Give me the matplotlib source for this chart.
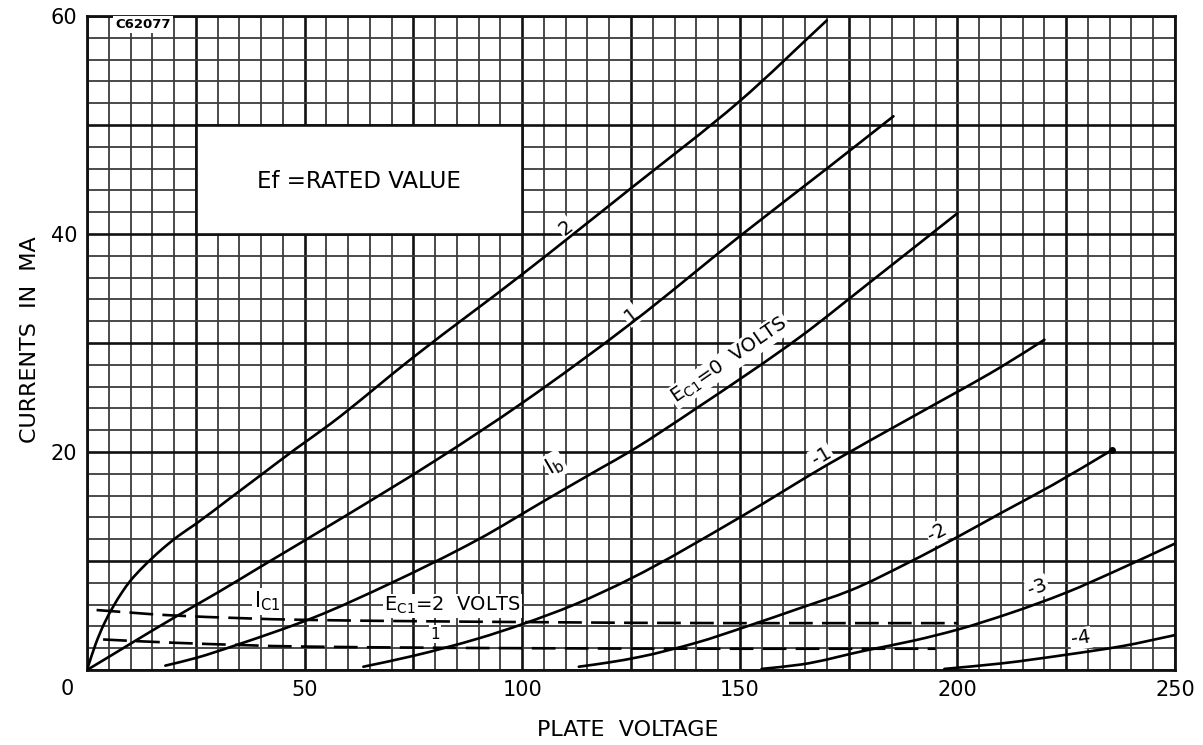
import numpy as np
import matplotlib
matplotlib.use("Agg")
import matplotlib.pyplot as plt
from matplotlib.ticker import FuncFormatter, MultipleLocator
from matplotlib.patches import Rectangle, PathPatch
from matplotlib.path import Path

plt.rcParams['font.family'] = ['DejaVu Sans']

# Plate current Ib (mA) vs plate voltage for each grid-1 voltage
ib_p2_v = [0, 2, 4, 6, 8, 10, 13, 17, 21, 25, 33, 40, 48, 56, 75, 100, 125, 150, 170]
ib_p2_i = [0, 2.4, 4.3, 5.8, 7.1, 8.2, 9.5, 11.0, 12.3, 13.4, 15.8, 17.9, 20.3, 22.6, 28.7, 36.3, 44.2, 52.2, 59.6]

ib_p1_v = [0, 5, 11.4, 20, 30, 40, 58, 80, 100, 125, 150, 170, 185.3]
ib_p1_i = [0, 1.2, 2.75, 4.8, 7.1, 9.5, 13.8, 19.2, 24.5, 31.8, 39.8, 46.0, 50.8]

ib_0_v = [18, 25, 34.4, 52, 70, 90, 105, 118, 125, 140, 164, 180, 200]
ib_0_i = [0.4, 1.1, 2.3, 4.8, 8.0, 12.0, 15.5, 18.5, 20.1, 24.0, 30.6, 35.6, 41.9]

ib_m1_v = [63.5, 75, 90, 100, 112, 125, 150, 170, 190, 210, 220]
ib_m1_i = [0.3, 1.3, 2.9, 4.2, 6.0, 8.4, 14.0, 18.8, 23.3, 27.8, 30.3]

ib_m2_v = [113, 120, 127, 140, 151.6, 164, 175.4, 189, 200, 210, 222, 235.6]
ib_m2_i = [0.3, 0.7, 1.2, 2.5, 4.0, 5.7, 7.3, 9.9, 12.2, 14.4, 17.0, 20.2]

ib_m3_v = [155, 164, 179, 190, 200, 212, 225, 237, 250]
ib_m3_i = [0.1, 0.5, 1.8, 2.7, 3.7, 5.2, 7.1, 9.2, 11.6]

ib_m4_v = [197, 210, 225, 238, 250]
ib_m4_i = [0.1, 0.6, 1.4, 2.2, 3.2]

# Grid-1 current Ic1 (mA) for positive grid voltages
ic_p2_v = [2.2, 20, 50, 100, 150, 200]
ic_p2_i = [5.5, 5.0, 4.6, 4.4, 4.3, 4.3]

ic_p1_v = [3.7, 20, 50, 100, 150, 195]
ic_p1_i = [2.8, 2.5, 2.15, 2.0, 1.95, 1.95]

x_tick_labels = {50: "50", 100: "100", 150: "150", 200: "200", 250: "250"}
y_tick_labels = {20: "20", 40: "40", 60: "60"}

W, H = 1203, 745
fig = plt.figure(figsize=(W / 100, H / 100), dpi=100)
ax = fig.add_axes([87 / W, 1 - 670 / H, (1175 - 87) / W, (670 - 16) / H])
ax.set_xlim(0, 250)
ax.set_ylim(0, 60)

# Graph-paper grid
ax.xaxis.set_major_locator(MultipleLocator(25))
ax.xaxis.set_minor_locator(MultipleLocator(5))
ax.yaxis.set_major_locator(MultipleLocator(10))
ax.yaxis.set_minor_locator(MultipleLocator(2))
ax.set_axisbelow(True)
ax.grid(which='minor', color='#3c3c3c', lw=1.3)
ax.grid(which='major', color='#111111', lw=1.9)
ax.tick_params(which='both', length=0)
ax.tick_params(axis='x', pad=7, labelsize=15)
ax.tick_params(axis='y', pad=7, labelsize=15)
ax.xaxis.set_major_formatter(FuncFormatter(lambda v, p: x_tick_labels.get(int(round(v)), "")))
ax.yaxis.set_major_formatter(FuncFormatter(lambda v, p: y_tick_labels.get(int(round(v)), "")))
for s in ax.spines.values():
    s.set_linewidth(2.0)
    s.set_color('#111111')

ax.annotate("0", xy=(0, 0), xytext=(-14, -14), textcoords='offset points',
            ha='center', va='center', fontsize=15)

# Note box
ax.add_patch(Rectangle((25, 40), 75, 10, facecolor='white', edgecolor='#111111',
                       lw=1.9, zorder=1))
ax.text(62.5, 44.8, "Ef =RATED VALUE", ha='center', va='center', fontsize=16.5, zorder=5)
ax.text(12.9, 59.2, "C62077", ha='center', va='center', fontsize=9.5, fontweight='bold',
        bbox=dict(facecolor='white', edgecolor='none', pad=1.5), zorder=5)


def smooth_path(v, i):
    """Monotone cubic (Fritsch-Carlson) curve through the points, as Bezier segments."""
    x = np.asarray(v, float)
    y = np.asarray(i, float)
    h = np.diff(x)
    d = np.diff(y) / h
    m = np.empty_like(x)
    m[0], m[-1] = d[0], d[-1]
    for k in range(1, len(x) - 1):
        if d[k - 1] * d[k] <= 0:
            m[k] = 0.0
        else:
            w1 = 2 * h[k] + h[k - 1]
            w2 = h[k] + 2 * h[k - 1]
            m[k] = (w1 + w2) / (w1 / d[k - 1] + w2 / d[k])
    verts = [(x[0], y[0])]
    codes = [Path.MOVETO]
    for k in range(len(x) - 1):
        c1 = (x[k] + h[k] / 3, y[k] + m[k] * h[k] / 3)
        c2 = (x[k + 1] - h[k] / 3, y[k + 1] - m[k + 1] * h[k] / 3)
        verts += [c1, c2, (x[k + 1], y[k + 1])]
        codes += [Path.CURVE4] * 3
    return Path(verts, codes)


lw = 1.9
ib_curves = [(ib_p2_v, ib_p2_i), (ib_p1_v, ib_p1_i), (ib_0_v, ib_0_i), (ib_m1_v, ib_m1_i),
             (ib_m2_v, ib_m2_i), (ib_m3_v, ib_m3_i), (ib_m4_v, ib_m4_i)]
for v, i in ib_curves:
    ax.add_patch(PathPatch(smooth_path(v, i), facecolor='none', edgecolor='black',
                           lw=lw, capstyle='round', zorder=3))
ax.plot(ib_m2_v[-1:], ib_m2_i[-1:], 'o', color='black', ms=4, zorder=3)

for v, i in [(ic_p2_v, ic_p2_i), (ic_p1_v, ic_p1_i)]:
    ax.add_patch(PathPatch(smooth_path(v, i), facecolor='none', edgecolor='black',
                           lw=lw, linestyle=(0, (9, 3.5)), zorder=3))

box = dict(facecolor='white', edgecolor='none', pad=1.0)


def slope_deg(v, i, x):
    s = (np.interp(x + 2, v, i) - np.interp(x - 2, v, i)) / 4.0
    return np.degrees(np.arctan(s))


def curve_label(text, x, y, v, i, size=14):
    ax.text(x, y, text, ha='center', va='center', fontsize=size,
            rotation=slope_deg(v, i, x), transform_rotates_text=True,
            rotation_mode='anchor', bbox=box, zorder=2.5)


curve_label("2", 110, 40.6, ib_p2_v, ib_p2_i)
curve_label("1", 125.0, 32.6, ib_p1_v, ib_p1_i)
curve_label(r"E$_{\mathrm{C1}}$=0  VOLTS", 147.6, 28.4, ib_0_v, ib_0_i)
curve_label(r"I$_{\mathrm{b}}$", 107.5, 18.8, ib_0_v, ib_0_i, size=15)
curve_label("-1", 168.8, 19.6, ib_m1_v, ib_m1_i)
curve_label("-2", 195.4, 12.6, ib_m2_v, ib_m2_i)
curve_label("-3", 218.4, 7.6, ib_m3_v, ib_m3_i)
curve_label("-4", 228.3, 2.9, ib_m4_v, ib_m4_i)

ax.text(41.4, 6.3, r"I$_{\mathrm{C1}}$", ha='center', va='center', fontsize=15,
        bbox=box, zorder=2.5)
ax.text(84.0, 5.9, r"E$_{\mathrm{C1}}$=2  VOLTS", ha='center', va='center', fontsize=14,
        bbox=box, zorder=2.5)
ax.text(80.0, 3.3, "1", ha='center', va='center', fontsize=11, bbox=box, zorder=2.5)

fig.text(628 / W, 1 - 730 / H, "PLATE  VOLTAGE", ha='center', va='center', fontsize=16)
fig.text(30 / W, 1 - 340 / H, "CURRENTS  IN  MA", ha='center', va='center',
         fontsize=16, rotation=90)

fig.savefig("out.png", dpi=100, facecolor='white')
